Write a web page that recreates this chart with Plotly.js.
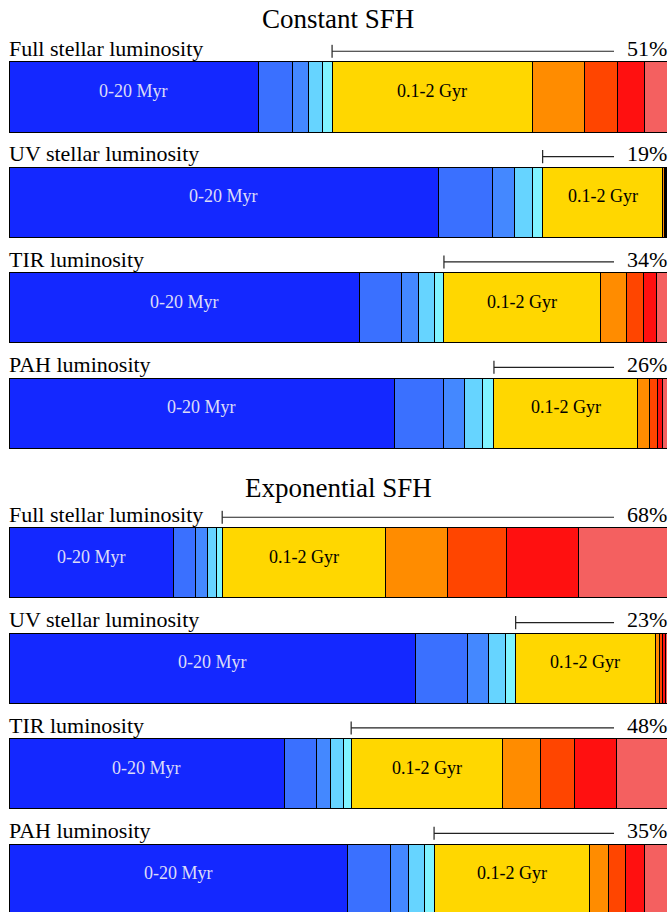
<!DOCTYPE html>
<html><head><meta charset="utf-8">
<script src="https://cdn.plot.ly/plotly-3.0.1.min.js"></script>
<style>html,body{margin:0;padding:0;background:#fff}#chart{width:668px;height:912px}</style>
</head><body><div id="chart"></div>
<script>
// ---- data (percent of luminosity per stellar age bin) ----
const rows = ["Full stellar luminosity", "UV stellar luminosity", "TIR luminosity", "PAH luminosity"];
const ageBins = ["0-20 Myr", "20-40 Myr", "40-60 Myr", "60-80 Myr", "80-100 Myr", "0.1-2 Gyr", "2-4 Gyr", "4-6 Gyr", "6-8 Gyr", "8-13 Gyr"];
const shownBinLabels = ["0-20 Myr", "0.1-2 Gyr"];

const constFull = [37.9, 5.2, 2.4, 2.2, 1.4, 30.5, 7.9, 5.0, 4.1, 3.4];
const constUV   = [65.2, 8.3, 3.3, 2.8, 1.5, 18.2, 0.25, 0.15, 0.15, 0.15];
const constTIR  = [53.3, 6.3, 2.6, 2.4, 1.5, 23.8, 4.0, 2.5, 2.0, 1.6];
const constPAH  = [58.6, 7.4, 3.3, 2.7, 1.7, 21.8, 1.8, 1.2, 0.8, 0.7];

const expFull = [25.0, 3.4, 1.7, 1.4, 0.9, 24.8, 9.5, 8.9, 10.9, 13.5];
const expUV   = [61.8, 7.9, 3.1, 2.6, 1.6, 21.2, 0.6, 0.5, 0.4, 0.3];
const expTIR  = [41.9, 4.9, 2.1, 1.9, 1.2, 23.0, 5.8, 5.2, 6.4, 7.6];
const expPAH  = [51.5, 6.5, 2.7, 2.4, 1.5, 23.6, 2.9, 2.6, 2.9, 3.4];

const constPct = [51, 19, 34, 26];
const expPct   = [68, 23, 48, 35];

const groupTitles = ["Constant SFH", "Exponential SFH"];

// ---- styles ----
const segColors = ['#1428ff', '#3a70ff', '#4488ff', '#66d4ff', '#7ff4ff',
                   '#ffd700', '#ff8c00', '#ff4500', '#ff1010', '#f46060'];
const serif = 'Liberation Serif, Times New Roman, serif';
const oldStart = 5;          // index of first bin older than 100 Myr
const bracketEnd = 91.95;    // x where bracket line stops (before % label)
const halfBar = 0.3325, lineOff = 0.434, tickHalf = 0.062;

const groups = [
  {data: [constFull, constUV, constTIR, constPAH], pct: constPct, y: 'y'},
  {data: [expFull, expUV, expTIR, expPAH], pct: expPct, y: 'y2'}
];

const traces = [], annotations = [], shapes = [];
groups.forEach(g => {
  for (let k = 0; k < ageBins.length; k++) {
    traces.push({
      type: 'bar', orientation: 'h', y: rows, x: g.data.map(r => r[k]),
      xaxis: 'x', yaxis: g.y, name: ageBins[k], showlegend: false,
      marker: {color: segColors[k], line: {color: '#000', width: 1}},
      hovertemplate: '%{y}: %{x}%<extra>' + ageBins[k] + '</extra>'
    });
  }
  g.data.forEach((r, i) => {
    const cum = []; let s = 0;
    r.forEach(v => { cum.push(s); s += v; });
    // in-bar labels
    annotations.push({x: cum[0] + r[0] / 2, y: i, xref: 'x', yref: g.y, text: shownBinLabels[0],
      showarrow: false, yshift: 6, font: {family: serif, size: 18, color: '#dcdcf8'}});
    annotations.push({x: cum[oldStart] + r[oldStart] / 2, y: i, xref: 'x', yref: g.y, text: shownBinLabels[1],
      showarrow: false, yshift: 6, font: {family: serif, size: 18, color: '#000'}});
    // row label
    annotations.push({x: 0, y: i - halfBar, xref: 'x', yref: g.y, text: rows[i], showarrow: false,
      xanchor: 'left', yanchor: 'bottom', xshift: -2, yshift: -1, font: {family: serif, size: 22, color: '#000'}});
    // percent label
    annotations.push({x: 100, y: i - halfBar, xref: 'x', yref: g.y, text: g.pct[i] + '%', showarrow: false,
      xanchor: 'right', yanchor: 'bottom', xshift: 2, yshift: -1, font: {family: serif, size: 22, color: '#000'}});
    // bracket
    const x0 = cum[oldStart];
    shapes.push({type: 'line', xref: 'x', yref: g.y, x0: x0, x1: bracketEnd, y0: i - lineOff, y1: i - lineOff,
      line: {color: '#222', width: 1.2}});
    shapes.push({type: 'line', xref: 'x', yref: g.y, x0: x0, x1: x0, y0: i - lineOff - tickHalf, y1: i - lineOff + tickHalf,
      line: {color: '#222', width: 1.2}});
  });
});

annotations.push({x: 0.5, y: 1 - 19 / 912, xref: 'paper', yref: 'paper', text: groupTitles[0], showarrow: false,
  xanchor: 'center', yanchor: 'middle', xshift: 4, font: {family: serif, size: 27, color: '#000'}});
annotations.push({x: 0.5, y: 1 - 488 / 912, xref: 'paper', yref: 'paper', text: groupTitles[1], showarrow: false,
  xanchor: 'center', yanchor: 'middle', xshift: 4, font: {family: serif, size: 27, color: '#000'}});

const hidden = {visible: false, showgrid: false, zeroline: false, fixedrange: true};
const layout = {
  width: 668, height: 912, margin: {l: 0, r: 0, t: 0, b: 0},
  paper_bgcolor: '#fff', plot_bgcolor: '#fff',
  barmode: 'stack', bargap: 0.335, showlegend: false,
  xaxis: Object.assign({}, hidden, {domain: [9 / 668, 667 / 668], range: [0, 100], anchor: 'y'}),
  yaxis: Object.assign({}, hidden, {domain: [1 - 465.7 / 912, 1 - 44.3 / 912], range: [3.5, -0.5], type: 'category', anchor: 'x'}),
  yaxis2: Object.assign({}, hidden, {domain: [0, 1 - 510.3 / 912], range: [3.313, -0.5], type: 'category', anchor: 'x'}),
  annotations: annotations, shapes: shapes
};
Plotly.newPlot('chart', traces, layout, {displayModeBar: false, staticPlot: true});
</script></body></html>
